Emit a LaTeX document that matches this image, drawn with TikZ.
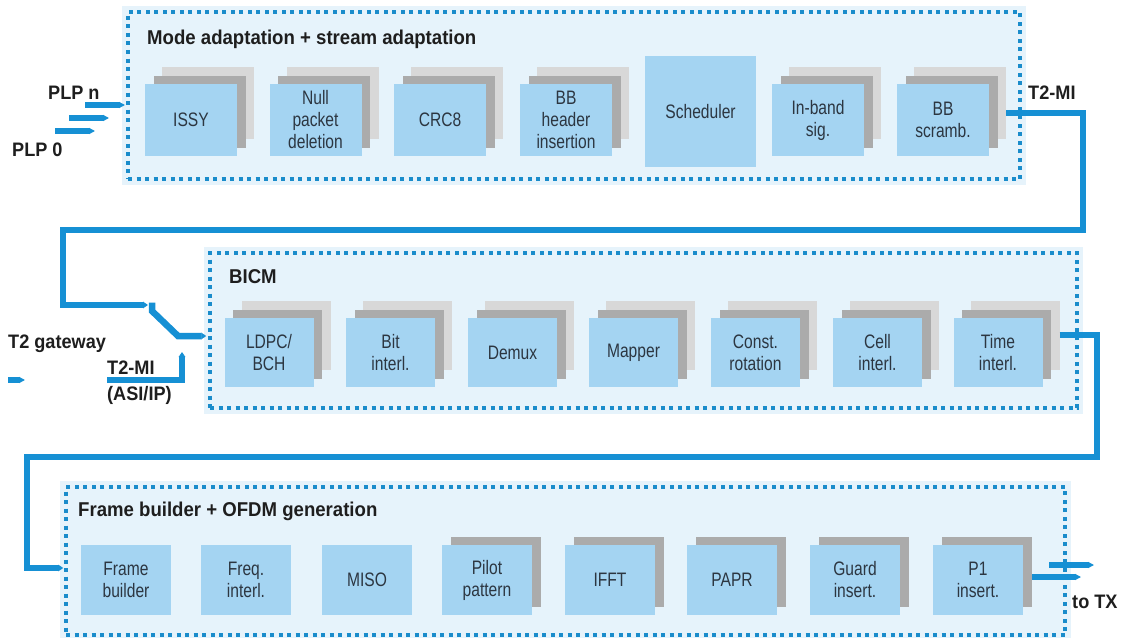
\documentclass[tikz,border=0pt]{standalone}
\usepackage{fontspec}
\setmainfont{Liberation Sans}
\newfontfamily\boxfont{Liberation Sans}[FakeStretch=0.8]
\newfontfamily\headfont{Liberation Sans}[FakeStretch=0.93]
\usetikzlibrary{arrows.meta,shadows,calc}

\definecolor{panelbg}{HTML}{E6F3FB}
\definecolor{panelline}{HTML}{1A8CCB}
\definecolor{blockfill}{HTML}{A4D4F2}
\definecolor{shadowdark}{HTML}{ABABAB}
\definecolor{shadowlight}{HTML}{D8D8D8}
\definecolor{flow}{HTML}{1690D4}
\definecolor{ink}{HTML}{2C3641}
\definecolor{headink}{HTML}{1E1E1E}

\tikzset{
  panelbox/.style={draw=panelline, line width=3.5pt, dash pattern=on 4pt off 4.5pt,
    fill=panelbg, inner sep=0pt,
    preaction={draw=panelbg, fill=panelbg, line width=12pt, solid}},
  blk/.style={fill=blockfill, text=ink, align=center, inner sep=0pt,
    font=\boxfont\fontsize{19.5}{22}\selectfont},
  blkA/.style={blk, minimum width=92pt, minimum height=72pt},
  blkB/.style={blk, minimum width=89pt, minimum height=69pt},
  blkC/.style={blk, minimum width=90pt, minimum height=70pt},
  onecopy/.style={copy shadow={shadow xshift=8.5pt, shadow yshift=8.5pt,
    fill=shadowdark, draw=none}},
  twocopies/.style={copy shadow={shadow xshift=17pt, shadow yshift=17pt,
    fill=shadowlight, draw=none},
    copy shadow={shadow xshift=8.5pt, shadow yshift=8.5pt,
    fill=shadowdark, draw=none}},
  paneltitle/.style={anchor=base west, inner sep=0pt, text=headink,
    font=\headfont\bfseries\fontsize{20}{22}\selectfont},
  lbl/.style={anchor=base west, inner sep=0pt, text=headink,
    font=\headfont\bfseries\fontsize{19.5}{22}\selectfont},
  flowline/.style={draw=flow, line width=6.5pt,
    -{Triangle[length=5pt,width=6.5pt]}},
  stub/.style={draw=flow, line width=6pt,
    -{Triangle[length=6pt,width=6pt]}}
}

\begin{document}
\begin{tikzpicture}[x=1pt,y=-1pt]
\fill[white] (0,0) rectangle (1126,637);
\useasboundingbox (0,0) rectangle (1126,637);

% ---------- panels ----------
\node[panelbox, minimum width=892pt, minimum height=167pt] (modeadapt) at (574,95.5) {};
\node[panelbox, minimum width=867pt, minimum height=155pt] (bicm) at (643.5,330.5) {};
\node[panelbox, minimum width=999pt, minimum height=148pt] (ofdm) at (565.5,561) {};

\node[paneltitle] (t1) at (147,44) {Mode adaptation + stream adaptation};
\node[paneltitle] (t2) at (229,283) {BICM};
\node[paneltitle] (t3) at (78,516) {Frame builder + OFDM generation};

% ---------- mode adaptation blocks ----------
\node[blkA, twocopies] (issy)   at (191,120)   {ISSY};
\node[blkA, twocopies] (nullp)  at (315.5,120) {Null\\packet\\deletion};
\node[blkA, twocopies] (crc)    at (440,120)   {CRC8};
\node[blkA, twocopies] (bbhdr)  at (566,120)   {BB\\header\\insertion};
\node[blk, minimum width=111pt, minimum height=111pt] (sched) at (700.5,111.5) {Scheduler};
\node[blkA, twocopies] (inband) at (818,120)   {In-band\\sig.};
\node[blkA, twocopies] (scramb) at (943,120)   {BB\\scramb.};

% ---------- BICM blocks ----------
\node[blkB, twocopies] (ldpc)   at (269,352.5)   {LDPC/\\BCH};
\node[blkB, twocopies] (bitil)  at (390.5,352.5) {Bit\\interl.};
\node[blkB, twocopies] (demux)  at (512.5,352.5) {Demux};
\node[blkB, twocopies] (mapper) at (633.5,352.5) {Mapper};
\node[blkB, twocopies] (crot)   at (755.5,352.5) {Const.\\rotation};
\node[blkB, twocopies] (cellil) at (877.5,352.5) {Cell\\interl.};
\node[blkB, twocopies] (timeil) at (998,352.5)   {Time\\interl.};

% ---------- frame builder / OFDM blocks ----------
\node[blkC] (frameb) at (126,580) {Frame\\builder};
\node[blkC] (freqil) at (246,580) {Freq.\\interl.};
\node[blkC] (miso)   at (367,580) {MISO};
\node[blkC, onecopy] (pilot) at (487,580) {Pilot\\pattern};
\node[blkC, onecopy] (ifft)  at (610,580) {IFFT};
\node[blkC, onecopy] (papr)  at (732,580) {PAPR};
\node[blkC, onecopy] (guard) at (855,580) {Guard\\insert.};
\node[blkC, onecopy] (p1ins) at (978,580) {P1\\insert.};

% ---------- labels ----------
\node[lbl] (plpn)  at (48,99)    {PLP n};
\node[lbl] (plp0)  at (12,156)   {PLP 0};
\node[lbl] (t2mia) at (1028,99)  {T2-MI};
\node[lbl] (gw)    at (8,348)    {T2 gateway};
\node[lbl] (t2mib) at (107,374)  {T2-MI};
\node[lbl] (asiip) at (107,400)  {(ASI/IP)};
\node[lbl] (totx)  at (1072,608) {to TX};

% ---------- connection points ----------
\coordinate (plpa0) at (85,105);  \coordinate (plpa1) at (125,105);
\coordinate (plpb0) at (69,118);  \coordinate (plpb1) at (109,118);
\coordinate (plpc0) at (55,131);  \coordinate (plpc1) at (95,131);
\coordinate (gwa0)  at (8,380);   \coordinate (gwa1)  at (25,380);
\coordinate (mainout) at ($(scramb.east)+(17,-7)$);
\coordinate (swin)  at (148,305);
\coordinate (swpiv) at (152,302.5);
\coordinate (bicmin) at ($(bicm.west)+(-2,5.5)$);
\coordinate (asiin) at (107,380);
\coordinate (asitip) at (182,352);
\coordinate (bicmout) at ($(timeil.east)+(17,-17.5)$);
\coordinate (ofdmin) at ($(ofdm.west)+(-1,7)$);
\coordinate (txa0) at ($(p1ins.east)+(9,-3)$);   \coordinate (txa1) at (1081,577);
\coordinate (txb0) at (1049,565);                 \coordinate (txb1) at (1094,565);

% ---------- connectors ----------
\draw[stub] (plpa0) -- (plpa1);
\draw[stub] (plpb0) -- (plpb1);
\draw[stub] (plpc0) -- (plpc1);
\draw[stub] (gwa0) -- (gwa1);

\draw[flowline] (mainout) -- (1083,113) -- (1083,230) -- (63,230) -- (63,305) -- (swin);
\draw[flowline] (swpiv) -- (152,311) -- (178,336) -- (bicmin);
\draw[flowline] (asiin) -- (182,380) -- (asitip);
\draw[flowline] (bicmout) -- (1097,335) -- (1097,457) -- (27,457) -- (27,568) -- (ofdmin);

\draw[stub] (txa0) -- (txa1);
\draw[stub] (txb0) -- (txb1);
\end{tikzpicture}
\end{document}
